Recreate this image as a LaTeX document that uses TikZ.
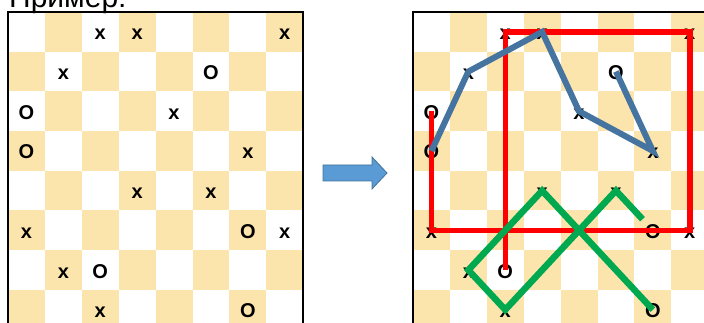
\documentclass[tikz,border=0pt]{standalone}
\usepackage{fontspec}
\setmainfont{Liberation Sans}
\usetikzlibrary{calc}
\definecolor{cream}{RGB}{252,229,173}
\definecolor{lineblue}{RGB}{70,116,160}
\definecolor{linegreen}{RGB}{0,168,80}
\definecolor{arrowfill}{RGB}{91,155,213}
\definecolor{arrowedge}{RGB}{65,113,156}
\tikzset{
  titletext/.style={font=\fontsize{30}{30}\selectfont, inner sep=0, anchor=base west},
  xomark/.style={font=\bfseries\fontsize{20}{20}\selectfont, inner sep=0, anchor=base},
  creamcell/.style={fill=cream, draw=none},
  boardborder/.style={line width=2pt, black},
  redline/.style={line width=5.5pt, red, line join=miter},
  blueline/.style={line width=6pt, lineblue, line join=miter},
  greenline/.style={line width=6.5pt, linegreen, line join=miter},
  blockarrow/.style={fill=arrowfill, draw=arrowedge, line width=0.8pt, line join=miter}
}
\begin{document}
\begin{tikzpicture}[x=1pt,y=-1pt]
\useasboundingbox (0,0) rectangle (704,323);
\clip (0,0) rectangle (704,323);
\node[titletext] (title) at (9,8) {Пример:};
\foreach \ox/\b in {8/L,413/R}{
  \foreach \r in {0,...,7}{
    \foreach \c in {0,...,7}{
      \ifodd\numexpr\r+\c\relax
        \fill[creamcell] (\ox+\c*36.9,12+\r*39.7) rectangle (\ox+\c*36.9+36.9,12+\r*39.7+39.7);
      \fi
      \coordinate (\b\r\c) at (\ox+\c*36.9+18.45,12+\r*39.7+19.85);
    }
  }
  \foreach \r/\c/\t in {0/2/x,0/3/x,0/7/x,1/1/x,1/5/O,2/0/O,2/4/x,3/0/O,3/6/x,4/3/x,4/5/x,5/0/x,5/6/O,5/7/x,6/1/x,6/2/O,7/2/x,7/6/O}{
    \node[xomark] (m\b\r\c) at ($(\b\r\c)+(0,8)$) {\t};
  }
}
\draw[boardborder] (8,330) -- (8,12) -- (303,12) -- (303,330);
\draw[boardborder] (413,330) -- (413,12) -- (710,12);
\draw[blockarrow] (323,165) -- (372,165) -- (372,157) -- (387,173) -- (372,189) -- (372,181) -- (323,181) -- cycle;
\draw[redline] (R20) -- (R50) -- (R57) -- (R07) -- (R02) -- (R62);
\draw[blueline] (R30) -- (R11) -- (R03) -- (R24) -- (R36) -- (R15);
\coordinate (gend) at ($(R45)!0.72!(R56)$);
\draw[greenline] (gend) -- (R45) -- (R72) -- (R61) -- (R43) -- (R76);
\end{tikzpicture}
\end{document}
